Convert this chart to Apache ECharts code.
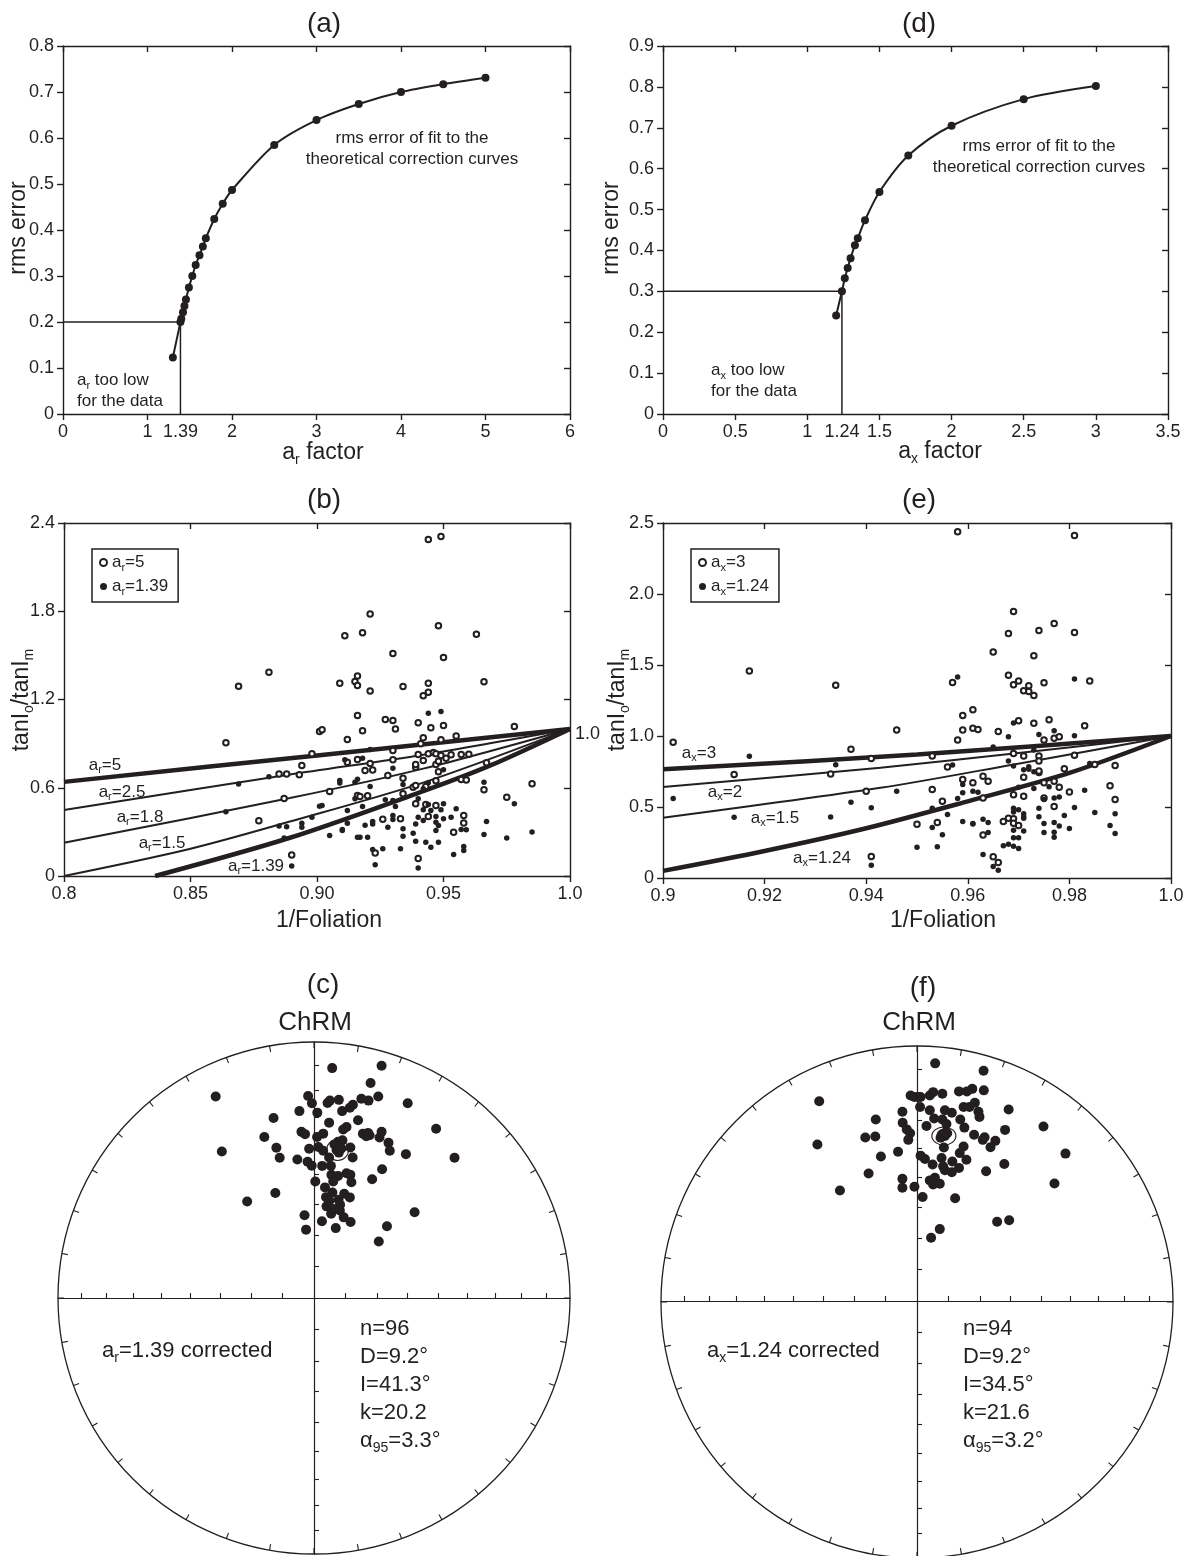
<!DOCTYPE html>
<html>
<head>
<meta charset="utf-8">
<script src="https://cdn.jsdelivr.net/npm/echarts@6.0.0/dist/echarts.min.js"></script>
<style>
html,body{margin:0;padding:0;background:#ffffff;}
#chart{width:1189px;height:1556px;}
</style>
</head>
<body>
<div id="chart"></div>
<script>
// ================= DATA =================
// (a) rms error vs a_r factor
const arFactor = [1.30,1.39,1.40,1.42,1.437,1.455,1.49,1.53,1.57,1.615,1.655,1.69,1.79,1.89,2.0,2.5,3.0,3.5,4.0,4.5,5.0];
const arRms    = [0.123,0.200,0.207,0.221,0.235,0.249,0.275,0.300,0.324,0.345,0.364,0.382,0.424,0.457,0.487,0.585,0.639,0.674,0.700,0.717,0.731];
const arChosen = [1.39, 0.2];
const arXTickValues  = [0,1,2,3,4,5,6];
const arXLabelValues = [0,1,1.39,2,3,4,5,6];
const arXLabels      = ['0','1','1.39','2','3','4','5','6'];
const arYLabels      = ['0','0.1','0.2','0.3','0.4','0.5','0.6','0.7','0.8'];

// (d) rms error vs a_x factor
const axFactor = [1.20,1.24,1.26,1.28,1.30,1.33,1.35,1.40,1.50,1.70,2.0,2.5,3.0];
const axRms    = [0.241,0.300,0.332,0.357,0.381,0.413,0.430,0.474,0.543,0.632,0.705,0.770,0.802];
const axChosen = [1.24, 0.3];
const axXTickValues  = [0,0.5,1,1.5,2,2.5,3,3.5];
const axXLabelValues = [0,0.5,1,1.24,1.5,2,2.5,3,3.5];
const axXLabels      = ['0','0.5','1','1.24','1.5','2','2.5','3','3.5'];
const axYLabels      = ['0','0.1','0.2','0.3','0.4','0.5','0.6','0.7','0.8','0.9'];

// (b) tanIo/tanIm vs 1/Foliation, a_r
const bXLabels = ['0.8','0.85','0.90','0.95','1.0'];
const bYLabels = ['0','0.6','1.2','1.8','2.4'];
const bCurveAr5   = [[0.8,0.64],[0.9,0.82],[1,1]];
const bCurveAr25  = [[0.8,0.448],[0.8893,0.69],[0.942,0.825],[1,1]];
const bCurveAr18  = [[0.8,0.226],[0.8893,0.53],[0.942,0.73],[1,1]];
const bCurveAr15  = [[0.8,0],[0.8488,0.18],[0.8893,0.37],[0.942,0.635],[1,1]];
const bCurveAr139 = [[0.836,0],[0.8893,0.26],[0.942,0.577],[0.9683,0.75],[1,1]];
const bOpen = [ // a_r = 5
[0.864,0.906],[0.869,1.29],[0.881,1.386],[0.885,0.693],[0.888,0.693],[0.887,0.527],[0.877,0.376],[0.890,0.143],
[0.944,2.287],[0.949,2.309],[0.921,1.781],[0.911,1.633],[0.918,1.654],[0.948,1.701],[0.963,1.643],[0.930,1.513],[0.950,1.486],
[0.909,1.311],[0.915,1.323],[0.916,1.359],[0.916,1.296],[0.921,1.257],[0.934,1.289],[0.944,1.311],[0.942,1.225],[0.944,1.250],
[0.966,1.321],[0.916,1.091],[0.927,1.064],[0.930,1.057],[0.931,0.999],[0.918,0.987],[0.940,1.042],[0.945,1.008],[0.950,1.023],
[0.901,0.983],[0.902,0.994],[0.912,0.928],[0.941,0.899],[0.942,0.940],[0.949,0.926],[0.955,0.951],[0.978,1.017],[0.898,0.831],
[0.930,0.853],[0.940,0.826],[0.944,0.831],[0.946,0.840],[0.947,0.831],[0.949,0.819],[0.951,0.801],[0.953,0.824],[0.957,0.826],
[0.960,0.828],[0.894,0.751],[0.912,0.774],[0.916,0.792],[0.921,0.765],[0.922,0.720],[0.919,0.717],[0.930,0.790],[0.939,0.740],
[0.939,0.758],[0.942,0.785],[0.947,0.758],[0.948,0.781],[0.948,0.708],[0.893,0.688],[0.928,0.683],[0.934,0.665],[0.938,0.604],
[0.939,0.615],[0.943,0.609],[0.947,0.647],[0.957,0.656],[0.959,0.652],[0.967,0.770],[0.966,0.586],[0.985,0.627],[0.905,0.574],
[0.975,0.536],[0.916,0.547],[0.917,0.540],[0.920,0.545],[0.934,0.559],[0.939,0.491],[0.943,0.486],[0.947,0.479],[0.944,0.404],
[0.958,0.411],[0.958,0.361],[0.954,0.298],[0.926,0.386],[0.933,0.389],[0.923,0.157],[0.940,0.119]
];
const bFilled = [ // a_r = 1.39
[0.869,0.625],[0.881,0.675],[0.864,0.437],[0.885,0.340],[0.888,0.335],[0.887,0.258],[0.890,0.068],
[0.944,1.107],[0.949,1.119],[0.921,0.860],[0.911,0.790],[0.918,0.801],[0.930,0.733],[0.916,0.658],[0.915,0.638],[0.909,0.649],
[0.909,0.633],[0.921,0.609],[0.934,0.622],[0.942,0.593],[0.944,0.634],[0.940,0.525],[0.950,0.722],[0.966,0.638],[0.978,0.491],
[0.902,0.479],[0.901,0.475],[0.918,0.472],[0.930,0.513],[0.931,0.472],[0.927,0.518],[0.915,0.525],[0.912,0.445],[0.898,0.400],
[0.894,0.359],[0.894,0.332],[0.905,0.275],[0.910,0.309],[0.910,0.316],[0.912,0.359],[0.919,0.345],[0.922,0.354],[0.922,0.370],
[0.928,0.332],[0.930,0.411],[0.930,0.384],[0.934,0.321],[0.934,0.271],[0.939,0.354],[0.938,0.291],[0.940,0.400],[0.942,0.377],
[0.942,0.450],[0.944,0.486],[0.945,0.445],[0.947,0.404],[0.950,0.491],[0.949,0.450],[0.950,0.389],[0.947,0.366],[0.948,0.343],
[0.947,0.309],[0.948,0.230],[0.943,0.230],[0.939,0.237],[0.945,0.196],[0.953,0.400],[0.955,0.457],[0.957,0.316],[0.959,0.314],
[0.958,0.200],[0.958,0.173],[0.966,0.282],[0.967,0.370],[0.975,0.259],[0.985,0.300],[0.954,0.146],[0.933,0.185],[0.926,0.185],
[0.922,0.180],[0.923,0.076],[0.940,0.055],[0.917,0.264],[0.916,0.264],[0.920,0.264]
];

// (e) tanIo/tanIm vs 1/Foliation, a_x
const eXLabels = ['0.9','0.92','0.94','0.96','0.98','1.0'];
const eYLabels = ['0','0.5','1.0','1.5','2.0','2.5'];
const eCurveAx3   = [[0.9,0.765],[0.95,0.87],[1,1]];
const eCurveAx2   = [[0.9,0.641],[0.9428,0.777],[0.9691,0.876],[1,1]];
const eCurveAx15  = [[0.9,0.424],[0.9428,0.635],[0.9691,0.80],[1,1]];
const eCurveAx124 = [[0.9,0.05],[0.92,0.19],[0.94,0.35],[0.96,0.54],[0.98,0.74],[1,1]];
const eOpen = [ // a_x = 3
[0.902,0.956],[0.917,1.458],[0.914,0.728],[0.934,1.357],[0.933,0.732],[0.937,0.907],[0.941,0.842],[0.940,0.611],[0.946,1.042],[0.941,0.152],
[0.958,2.438],[0.981,2.412],[0.969,1.877],[0.977,1.792],[0.974,1.743],[0.968,1.721],[0.981,1.728],[0.965,1.591],[0.973,1.565],
[0.968,1.428],[0.969,1.361],[0.970,1.387],[0.971,1.319],[0.972,1.354],[0.972,1.314],[0.973,1.286],[0.975,1.375],[0.984,1.387],
[0.957,1.376],[0.961,1.184],[0.959,1.144],[0.959,1.042],[0.961,1.054],[0.962,1.046],[0.958,0.971],[0.966,1.032],[0.970,1.108],
[0.973,1.089],[0.976,1.115],[0.983,1.073],[0.975,0.971],[0.977,0.985],[0.978,0.994],[0.953,0.859],[0.969,0.876],[0.971,0.859],
[0.974,0.859],[0.974,0.824],[0.981,0.864],[0.985,0.800],[0.989,0.793],[0.956,0.781],[0.971,0.710],[0.974,0.743],[0.974,0.753],
[0.979,0.769],[0.959,0.694],[0.961,0.670],[0.963,0.717],[0.964,0.682],[0.975,0.670],[0.977,0.682],[0.978,0.639],[0.953,0.623],
[0.955,0.540],[0.963,0.564],[0.969,0.587],[0.971,0.575],[0.975,0.564],[0.977,0.504],[0.980,0.606],[0.988,0.649],[0.989,0.552],
[0.950,0.379],[0.954,0.391],[0.967,0.398],[0.968,0.421],[0.969,0.417],[0.969,0.386],[0.970,0.369],[0.963,0.303],[0.965,0.149],[0.966,0.109]
];
const eFilled = [ // a_x = 1.24
[0.902,0.560],[0.917,0.858],[0.914,0.427],[0.934,0.798],[0.933,0.429],[0.937,0.534],[0.941,0.494],[0.946,0.611],[0.941,0.089],
[0.958,1.416],[0.981,1.402],[0.969,1.091],[0.968,0.994],[0.974,1.011],[0.977,1.037],[0.981,1.001],[0.965,0.923],[0.973,0.902],
[0.957,0.795],[0.968,0.824],[0.969,0.788],[0.971,0.762],[0.972,0.784],[0.972,0.765],[0.973,0.748],[0.984,0.807],[0.959,0.658],
[0.961,0.611],[0.962,0.604],[0.959,0.601],[0.958,0.559],[0.970,0.639],[0.973,0.630],[0.976,0.642],[0.983,0.618],[0.953,0.492],
[0.956,0.448],[0.970,0.481],[0.969,0.464],[0.971,0.452],[0.971,0.421],[0.971,0.431],[0.974,0.492],[0.974,0.431],[0.975,0.552],
[0.977,0.564],[0.978,0.571],[0.981,0.497],[0.985,0.462],[0.989,0.452],[0.979,0.441],[0.959,0.398],[0.961,0.384],[0.961,0.381],
[0.963,0.414],[0.964,0.391],[0.975,0.384],[0.977,0.391],[0.978,0.367],[0.980,0.348],[0.988,0.369],[0.989,0.313],[0.953,0.355],
[0.955,0.305],[0.964,0.320],[0.969,0.336],[0.971,0.331],[0.975,0.320],[0.977,0.322],[0.977,0.287],[0.969,0.284],[0.970,0.284],
[0.967,0.227],[0.968,0.237],[0.969,0.223],[0.970,0.208],[0.950,0.216],[0.954,0.220],[0.963,0.166],[0.965,0.081],[0.966,0.055],[0.969,0.492]
];

// (c) ChRM, a_r=1.39 corrected — equal-area projected (east, north), unit circle
const cPoints = [
[0.071,0.898],[0.264,0.907],[-0.384,0.787],[0.221,0.840],[-0.023,0.789],[-0.008,0.761],[0.053,0.762],[0.062,0.771],[0.097,0.774],
[0.185,0.778],[0.213,0.771],[0.251,0.787],[0.366,0.761],[0.152,0.755],[0.140,0.743],[0.110,0.730],[-0.057,0.730],[0.013,0.724],
[-0.158,0.703],[0.172,0.694],[0.059,0.685],[0.114,0.658],[0.127,0.668],[0.477,0.661],[-0.194,0.629],[-0.049,0.649],[-0.035,0.640],
[0.036,0.642],[0.012,0.629],[0.191,0.642],[0.211,0.645],[0.217,0.636],[0.204,0.632],[0.264,0.649],[0.256,0.627],[0.291,0.606],
[-0.360,0.572],[-0.147,0.587],[-0.019,0.583],[0.017,0.590],[0.036,0.575],[0.094,0.610],[0.111,0.616],[0.088,0.578],[0.097,0.568],
[0.107,0.584],[0.142,0.588],[0.296,0.575],[0.359,0.562],[0.549,0.548],[-0.134,0.548],[-0.065,0.541],[0.059,0.549],[0.151,0.549],
[-0.025,0.532],[-0.009,0.517],[0.032,0.516],[0.066,0.516],[0.068,0.481],[0.094,0.477],[0.127,0.487],[0.142,0.481],[0.266,0.503],
[0.005,0.455],[0.075,0.455],[0.146,0.452],[0.227,0.464],[0.043,0.432],[0.072,0.412],[0.118,0.407],[0.140,0.393],[0.047,0.394],
[-0.151,0.410],[-0.261,0.377],[0.096,0.384],[0.102,0.364],[0.049,0.358],[0.075,0.348],[0.101,0.342],[0.067,0.329],[-0.037,0.323],
[0.116,0.315],[0.143,0.297],[0.031,0.300],[0.085,0.273],[-0.031,0.267],[0.285,0.280],[0.393,0.335],[0.253,0.221],[0.100,0.597],
[0.080,0.600],[0.060,0.380]
];
const cMean = [0.092, 0.578];
const cStats = ['n=96','D=9.2°','I=41.3°','k=20.2','3.3°'];

// (f) ChRM, a_x=1.24 corrected
const fPoints = [
[0.071,0.932],[0.260,0.903],[-0.382,0.783],[-0.025,0.806],[-0.010,0.800],[0.005,0.800],[0.014,0.800],[0.050,0.806],[0.063,0.819],
[0.099,0.813],[0.164,0.822],[0.195,0.822],[0.216,0.832],[0.261,0.826],[-0.057,0.742],[0.012,0.761],[0.050,0.748],[0.109,0.748],
[0.136,0.738],[0.182,0.761],[0.205,0.761],[0.226,0.777],[0.240,0.742],[0.244,0.722],[0.358,0.751],[-0.161,0.712],[-0.056,0.699],
[0.037,0.686],[0.067,0.716],[0.099,0.712],[0.115,0.694],[0.169,0.712],[0.185,0.680],[0.344,0.671],[0.494,0.684],[-0.040,0.673],
[-0.027,0.658],[-0.034,0.632],[-0.202,0.641],[-0.163,0.645],[-0.389,0.614],[0.096,0.651],[0.109,0.647],[0.118,0.658],[0.105,0.602],
[0.223,0.652],[0.264,0.642],[0.257,0.632],[0.306,0.628],[0.287,0.603],[0.580,0.578],[-0.074,0.585],[-0.141,0.567],[0.014,0.570],
[0.031,0.557],[0.096,0.561],[0.138,0.547],[0.167,0.580],[0.182,0.606],[0.193,0.554],[0.061,0.535],[0.102,0.528],[0.109,0.513],
[0.136,0.505],[0.164,0.522],[0.341,0.537],[0.270,0.509],[-0.189,0.500],[-0.057,0.479],[-0.057,0.444],[-0.010,0.448],[0.050,0.473],
[0.070,0.483],[0.063,0.457],[0.089,0.460],[-0.301,0.433],[0.022,0.408],[0.149,0.403],[0.537,0.461],[0.313,0.311],[0.360,0.317],
[0.089,0.282],[0.055,0.248],[0.100,0.655],[0.092,0.640],[0.112,0.662]
];
const fMean = [0.105, 0.647];
const fStats = ['n=94','D=9.2°','I=34.5°','k=21.6','3.2°'];

// stereonet graticule: inclination ticks (deg) on the cross, declination ticks every 10 deg
const netIncTicks = [10,20,30,40,50,60,70,80];

// ================= CHART =================
const FONT = '"Liberation Sans", Arial, Helvetica, sans-serif';
const INK = '#231f20';
const LS = {color: INK, width: 1.4};
const chart = echarts.init(document.getElementById('chart'), null, {renderer: 'canvas'});

function lookup(vals, labels) {
  return function (v) {
    for (let i = 0; i < vals.length; i++) if (Math.abs(vals[i] - v) < 1e-6) return labels[i];
    return '';
  };
}
const LBL = {show: true, fontSize: 18, fontFamily: FONT, color: INK};

function xBottom(g, min, max, interval, labelExtra, tickExtra) {
  return {type: 'value', gridIndex: g, position: 'bottom', min, max, interval,
    axisLine: {show: true, onZero: false, lineStyle: LS},
    axisTick: Object.assign({show: true, inside: false, length: 6, lineStyle: LS}, tickExtra || {}),
    axisLabel: Object.assign({}, LBL, {margin: 9}, labelExtra || {}),
    splitLine: {show: false}};
}
function xTop(g, min, max, interval) {
  return {type: 'value', gridIndex: g, position: 'top', min, max, interval,
    axisLine: {show: true, onZero: false, lineStyle: LS},
    axisTick: {show: true, inside: true, length: 6, lineStyle: LS},
    axisLabel: {show: false}, splitLine: {show: false}};
}
function yLeft(g, min, max, interval, labels) {
  return {type: 'value', gridIndex: g, position: 'left', min, max, interval,
    axisLine: {show: true, onZero: false, lineStyle: LS},
    axisTick: {show: true, inside: false, length: 6, lineStyle: LS},
    axisLabel: Object.assign({}, LBL, {margin: 9, formatter: (v, i) => labels[i]}),
    splitLine: {show: false}};
}
function yRight(g, min, max, interval) {
  return {type: 'value', gridIndex: g, position: 'right', min, max, interval,
    axisLine: {show: true, onZero: false, lineStyle: LS},
    axisTick: {show: true, inside: true, length: 6, lineStyle: LS},
    axisLabel: {show: false}, splitLine: {show: false}};
}
const netTickPos = [];
netIncTicks.forEach(I => {
  const r = Math.SQRT2 * Math.sin((90 - I) / 2 * Math.PI / 180);
  netTickPos.push(-r, r);
});
function netAxis(g) {
  return {type: 'value', gridIndex: g, min: -1, max: 1,
    axisLine: {show: true, onZero: true, lineStyle: {color: INK, width: 1.2}},
    axisTick: {show: true, inside: true, length: 5, customValues: netTickPos, lineStyle: {color: INK, width: 1.1}},
    axisLabel: {show: false}, splitLine: {show: false}};
}

function richFor(F) {
  const L = Math.round(F * 1.25);
  return {
    m: {fontSize: F, fontFamily: FONT, fill: INK, color: INK, lineHeight: L},
    s: {fontSize: Math.round(F * 0.62), fontFamily: FONT, fill: INK, color: INK,
        lineHeight: Math.max(4, Math.round(L - F * 0.84)), verticalAlign: 'bottom'}
  };
}
function txt(x, y, text, F, opt) {
  opt = opt || {};
  return {type: 'text', x, y, rotation: opt.rot || 0, silent: true, z: 10,
    style: {text, fontSize: F, fontFamily: FONT, fill: INK,
      align: opt.align || 'center', verticalAlign: opt.va || 'middle',
      lineHeight: opt.lh || Math.round(F * 1.25), rich: richFor(F)}};
}

function pairs(xs, ys) { return xs.map((x, i) => [x, ys[i]]); }
function curve(xi, data, w) {
  return {type: 'line', xAxisIndex: xi, yAxisIndex: xi, data, smooth: 0.3,
    symbol: 'none', lineStyle: {color: INK, width: w}, z: 3};
}

const legendText = {
  ar5: '{m|a}{s|r}{m|=5}', ar139: '{m|a}{s|r}{m|=1.39}',
  ax3: '{m|a}{s|x}{m|=3}', ax124: '{m|a}{s|x}{m|=1.24}'
};
function legendCfg(names, left, top) {
  const r = richFor(17);
  return {data: names, left, top, orient: 'vertical', itemWidth: 7, itemHeight: 7, itemGap: 5,
    padding: [5, 10, 5, 7], borderColor: INK, borderWidth: 1.5, borderRadius: 0,
    selectedMode: false, formatter: n => legendText[n],
    textStyle: {fontSize: 17, fontFamily: FONT, color: INK, rich: {m: r.m, s: r.s}}};
}

const DOT = {color: INK, opacity: 1};

const option = {
  backgroundColor: '#ffffff',
  animation: false,
  grid: [
    {left: 63, top: 46, width: 507, height: 368},
    {left: 663, top: 46, width: 505, height: 368},
    {left: 64, top: 523, width: 506, height: 353},
    {left: 663, top: 523, width: 508, height: 355},
    {left: 58, top: 1042, width: 512, height: 512},
    {left: 661, top: 1046, width: 512, height: 512}
  ],
  xAxis: [
    xBottom(0, 0, 6, 1, {customValues: arXLabelValues, formatter: lookup(arXLabelValues, arXLabels)}, {customValues: arXTickValues}),
    xTop(0, 0, 6, 1),
    xBottom(1, 0, 3.5, 0.5, {customValues: axXLabelValues, formatter: lookup(axXLabelValues, axXLabels)}, {customValues: axXTickValues}),
    xTop(1, 0, 3.5, 0.5),
    xBottom(2, 0.8, 1.0, 0.05, {formatter: (v, i) => bXLabels[i]}),
    xTop(2, 0.8, 1.0, 0.05),
    xBottom(3, 0.9, 1.0, 0.02, {formatter: (v, i) => eXLabels[i]}),
    xTop(3, 0.9, 1.0, 0.02),
    netAxis(4),
    netAxis(5)
  ],
  yAxis: [
    yLeft(0, 0, 0.8, 0.1, arYLabels), yRight(0, 0, 0.8, 0.1),
    yLeft(1, 0, 0.9, 0.1, axYLabels), yRight(1, 0, 0.9, 0.1),
    yLeft(2, 0, 2.4, 0.6, bYLabels), yRight(2, 0, 2.4, 0.6),
    yLeft(3, 0, 2.5, 0.5, eYLabels), yRight(3, 0, 2.5, 0.5),
    netAxis(4), netAxis(5)
  ],
  polar: [
    {center: [314, 1298], radius: 256},
    {center: [917, 1302], radius: 256}
  ],
  angleAxis: [0, 1].map(p => ({polarIndex: p, type: 'value', min: 0, max: 360, interval: 10, startAngle: 90, clockwise: true,
    axisLine: {show: true, lineStyle: {color: INK, width: 1.3}},
    axisTick: {show: true, inside: true, length: 6, lineStyle: {color: INK, width: 1.1}},
    axisLabel: {show: false}, splitLine: {show: false}})),
  radiusAxis: [0, 1].map(p => ({polarIndex: p, type: 'value', min: 0, max: 1,
    axisLine: {show: false}, axisTick: {show: false}, axisLabel: {show: false}, splitLine: {show: false}})),
  legend: [legendCfg(['ar5', 'ar139'], 92, 549), legendCfg(['ax3', 'ax124'], 691, 549)],
  series: [
    // (a)
    {type: 'line', xAxisIndex: 0, yAxisIndex: 0, data: [[0, arChosen[1]], arChosen, [arChosen[0], 0]],
      symbol: 'none', lineStyle: {color: INK, width: 1.5}, z: 2},
    {type: 'line', xAxisIndex: 0, yAxisIndex: 0, data: pairs(arFactor, arRms), smooth: 0.3,
      symbol: 'circle', symbolSize: 8, itemStyle: DOT, lineStyle: {color: INK, width: 2}, z: 3},
    // (d)
    {type: 'line', xAxisIndex: 2, yAxisIndex: 2, data: [[0, axChosen[1]], axChosen, [axChosen[0], 0]],
      symbol: 'none', lineStyle: {color: INK, width: 1.5}, z: 2},
    {type: 'line', xAxisIndex: 2, yAxisIndex: 2, data: pairs(axFactor, axRms), smooth: 0.3,
      symbol: 'circle', symbolSize: 8, itemStyle: DOT, lineStyle: {color: INK, width: 2}, z: 3},
    // (b)
    curve(4, bCurveAr5, 4.5), curve(4, bCurveAr25, 2), curve(4, bCurveAr18, 2), curve(4, bCurveAr15, 2), curve(4, bCurveAr139, 4.5),
    {type: 'scatter', name: 'ar5', xAxisIndex: 4, yAxisIndex: 4, data: bOpen, symbol: 'emptyCircle', symbolSize: 5.5,
      itemStyle: {color: INK, borderColor: INK, borderWidth: 1.1, opacity: 1}, z: 4},
    {type: 'scatter', name: 'ar139', xAxisIndex: 4, yAxisIndex: 4, data: bFilled, symbol: 'circle', symbolSize: 5.5,
      itemStyle: DOT, z: 4},
    // (e)
    curve(6, eCurveAx3, 4.5), curve(6, eCurveAx2, 2), curve(6, eCurveAx15, 2), curve(6, eCurveAx124, 4.5),
    {type: 'scatter', name: 'ax3', xAxisIndex: 6, yAxisIndex: 6, data: eOpen, symbol: 'emptyCircle', symbolSize: 5.5,
      itemStyle: {color: INK, borderColor: INK, borderWidth: 1.1, opacity: 1}, z: 4},
    {type: 'scatter', name: 'ax124', xAxisIndex: 6, yAxisIndex: 6, data: eFilled, symbol: 'circle', symbolSize: 5.5,
      itemStyle: DOT, z: 4},
    // (c)
    {type: 'scatter', xAxisIndex: 8, yAxisIndex: 8, data: cPoints, symbol: 'circle', symbolSize: 10, itemStyle: DOT, z: 4},
    {type: 'scatter', xAxisIndex: 8, yAxisIndex: 8, data: [cMean], symbol: 'circle', symbolSize: [22, 21],
      itemStyle: {color: 'rgba(0,0,0,0)', borderColor: INK, borderWidth: 1, opacity: 1}, z: 5},
    // (f)
    {type: 'scatter', xAxisIndex: 9, yAxisIndex: 9, data: fPoints, symbol: 'circle', symbolSize: 10, itemStyle: DOT, z: 4},
    {type: 'scatter', xAxisIndex: 9, yAxisIndex: 9, data: [fMean], symbol: 'circle', symbolSize: [24, 18],
      itemStyle: {color: 'rgba(0,0,0,0)', borderColor: INK, borderWidth: 1, opacity: 1}, z: 5}
  ],
  graphic: [
    // panel titles
    txt(324, 24, '(a)', 28), txt(919, 24, '(d)', 28),
    txt(324, 500, '(b)', 28), txt(919, 500, '(e)', 28),
    txt(323, 985, '(c)', 28), txt(923, 988, '(f)', 28),
    txt(315, 1023, 'ChRM', 26), txt(919, 1023, 'ChRM', 26),
    // axis names
    txt(323, 453, '{m|a}{s|r}{m| factor}', 23), txt(940, 452, '{m|a}{s|x}{m| factor}', 23),
    txt(19, 228, 'rms error', 23, {rot: Math.PI / 2}), txt(612, 228, 'rms error', 23, {rot: Math.PI / 2}),
    txt(329, 921, '1/Foliation', 23), txt(943, 921, '1/Foliation', 23),
    txt(22, 700, '{m|tanI}{s|o}{m|/tanI}{s|m}', 23, {rot: Math.PI / 2}),
    txt(618, 700, '{m|tanI}{s|o}{m|/tanI}{s|m}', 23, {rot: Math.PI / 2}),
    // annotations (a),(d)
    txt(412, 149, '{m|rms error of fit to the}\n{m|theoretical correction curves}', 17),
    txt(77, 391, '{m|a}{s|r}{m| too low}\n{m|for the data}', 17, {align: 'left'}),
    txt(1039, 157, '{m|rms error of fit to the}\n{m|theoretical correction curves}', 17),
    txt(711, 381, '{m|a}{s|x}{m| too low}\n{m|for the data}', 17, {align: 'left'}),
    // curve labels (b)
    txt(105, 765, '{m|a}{s|r}{m|=5}', 17), txt(122, 792, '{m|a}{s|r}{m|=2.5}', 17),
    txt(140, 817, '{m|a}{s|r}{m|=1.8}', 17), txt(162, 843, '{m|a}{s|r}{m|=1.5}', 17),
    txt(256, 866, '{m|a}{s|r}{m|=1.39}', 17), txt(575, 734, '1.0', 18, {align: 'left'}),
    // curve labels (e)
    txt(699, 753, '{m|a}{s|x}{m|=3}', 17), txt(725, 792, '{m|a}{s|x}{m|=2}', 17),
    txt(775, 818, '{m|a}{s|x}{m|=1.5}', 17), txt(822, 858, '{m|a}{s|x}{m|=1.24}', 17),
    // stereonet texts
    txt(102, 1351, '{m|a}{s|r}{m|=1.39 corrected}', 22, {align: 'left'}),
    txt(360, 1315, '{m|' + cStats[0] + '}\n{m|' + cStats[1] + '}\n{m|' + cStats[2] + '}\n{m|' + cStats[3] + '}\n{m|α}{s|95}{m|=' + cStats[4] + '}', 22, {align: 'left', va: 'top'}),
    txt(707, 1351, '{m|a}{s|x}{m|=1.24 corrected}', 22, {align: 'left'}),
    txt(963, 1315, '{m|' + fStats[0] + '}\n{m|' + fStats[1] + '}\n{m|' + fStats[2] + '}\n{m|' + fStats[3] + '}\n{m|α}{s|95}{m|=' + fStats[4] + '}', 22, {align: 'left', va: 'top'})
  ]
};
chart.setOption(option);
</script>
</body>
</html>
